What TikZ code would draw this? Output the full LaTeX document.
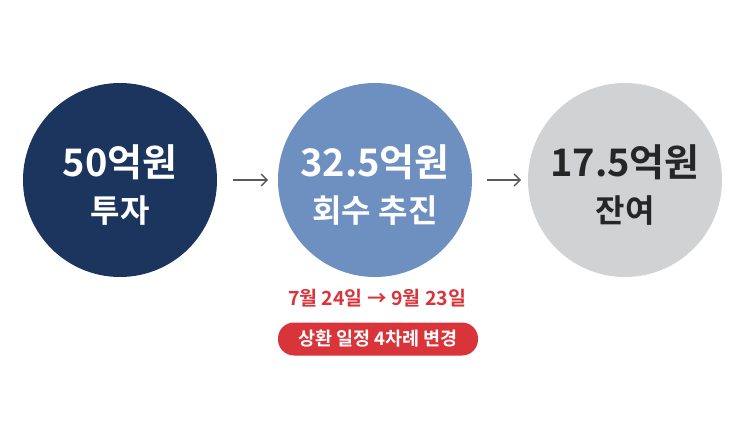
\documentclass[tikz,border=0pt]{standalone}
\usepackage{fontspec}
\newfontfamily\cjk[BoldFont={Noto Sans CJK KR Bold}]{Noto Sans CJK KR}
\begin{document}
\begin{tikzpicture}[x=1pt,y=-1pt,
  circ/.style={circle,minimum size=194pt,inner sep=0pt},
  lbl/.style={align=center,font=\cjk\bfseries\fontsize{38}{44}\selectfont},
  arr/.style={-{Straight Barb[length=6pt,width=12pt]},line width=1.4pt,color=black!65}]
\usetikzlibrary{arrows.meta}
\definecolor{navy}{HTML}{1C355E}
\definecolor{mblue}{HTML}{6D90C0}
\definecolor{lgrey}{HTML}{D1D2D4}
\definecolor{red1}{HTML}{D8343A}
\useasboundingbox[fill=white] (0,0) rectangle (755,425);
\node[circ,fill=navy] (a) at (120,180) {};
\node[circ,fill=mblue] (b) at (375,180) {};
\node[circ,fill=lgrey] (c) at (625,180) {};
\node[lbl,text=white] (at) at (120,185) {50억원\\[2pt]{\fontsize{32}{38}\selectfont 투자}};
\node[lbl,text=white] (bt) at (375,185) {32.5억원\\[2pt]{\fontsize{32}{38}\selectfont 회수 추진}};
\node[lbl,text=black!85] (ct) at (625,185) {17.5억원\\[2pt]{\fontsize{32}{38}\selectfont 잔여}};
\coordinate (a1) at (233,180); \coordinate (a2) at (268,180);
\coordinate (b1) at (487,180); \coordinate (b2) at (521,180);
\draw[arr] (a1) -- (a2);
\draw[arr] (b1) -- (b2);
\node[text=red1,font=\cjk\bfseries\fontsize{19.5}{22}\selectfont] (d) at (377,298) {7월 24일 → 9월 23일};
\node[fill=red1,text=white,rounded corners=16pt,minimum width=200pt,minimum height=33pt,font=\cjk\bfseries\fontsize{18.5}{22}\selectfont] (e) at (378,339) {상환 일정 4차례 변경};
\end{tikzpicture}
\end{document}
